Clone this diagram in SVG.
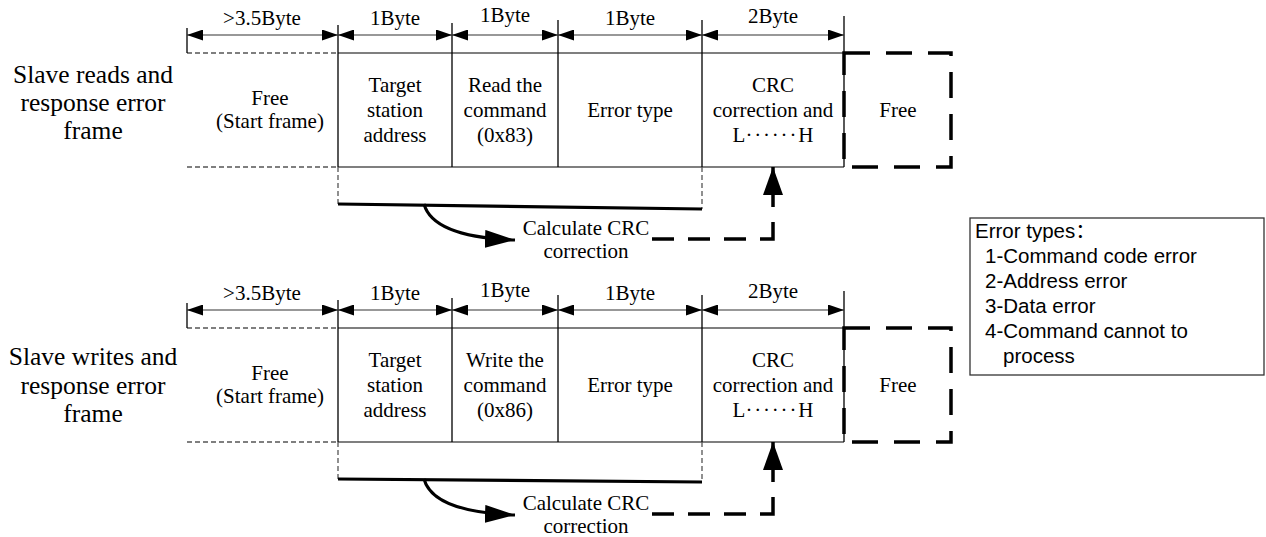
<svg xmlns="http://www.w3.org/2000/svg" width="1266" height="537" viewBox="0 0 1266 537">
<style>
.t{font-family:"Liberation Serif","Times New Roman",serif;font-size:21px;fill:#000;text-anchor:middle}
.lab{font-family:"Liberation Serif","Times New Roman",serif;font-size:25.5px;fill:#000;text-anchor:middle}
.lg{font-family:"Liberation Sans",Arial,sans-serif;font-size:20.5px;fill:#000}
.dots{letter-spacing:1.8px}
.hl{stroke:#555;stroke-width:1.3;fill:none}
.hd{stroke:#555;stroke-width:1.3;stroke-dasharray:5 3;fill:none}
.dv{stroke:#000;stroke-width:1.3;fill:none}
.dim{stroke:#333;stroke-width:1.2;fill:none;marker-start:url(#dh);marker-end:url(#dh)}
.thick{stroke:#000;stroke-width:3.2;fill:none}
.curve{stroke:#000;stroke-width:3;fill:none;marker-end:url(#big)}
.dconn{stroke:#000;stroke-width:3.5;fill:none;stroke-dasharray:22 14 22 14 22 14 30 15 60;marker-end:url(#up)}
.fbox{stroke:#000;stroke-width:3.5;fill:none;stroke-dasharray:26 16}
</style>
<defs>
<marker id="dh" viewBox="0 0 16 11" refX="16" refY="5.5" markerWidth="16" markerHeight="11" markerUnits="userSpaceOnUse" orient="auto-start-reverse"><path d="M0,0 L16,5.5 L0,11 z" fill="#000"/></marker>
<marker id="big" viewBox="0 0 30 18" refX="30" refY="9" markerWidth="30" markerHeight="18" markerUnits="userSpaceOnUse" orient="auto"><path d="M0,0 L30,9 L0,18 z" fill="#000"/></marker>
<marker id="up" viewBox="0 0 28 20" refX="28" refY="10" markerWidth="28" markerHeight="20" markerUnits="userSpaceOnUse" orient="auto"><path d="M0,0 L28,10 L0,20 z" fill="#000"/></marker>
</defs>

<!-- ===== Row 1 ===== -->
<g id="row1-label"><text class="lab" x="93" y="83">Slave reads and</text><text class="lab" x="93" y="111">response error</text><text class="lab" x="93" y="139">frame</text></g>
<g id="row1-frame">
<path class="hd" d="M187,53 H338 M187,167 H338"/>
<path class="hl" d="M338,53 H844 M338,167 H844"/>
<path class="dv" d="M187,28 V53 M338,25 V167 M452,23 V167 M558,20 V167 M702,20 V167 M844,16 V167"/>
</g>
<g id="row1-bytes">
<text class="t" x="262" y="25">&gt;3.5Byte</text>
<text class="t" x="395" y="25">1Byte</text>
<text class="t" x="505" y="22">1Byte</text>
<text class="t" x="630" y="25">1Byte</text>
<text class="t" x="773" y="23">2Byte</text>
</g>
<g id="row1-free"><text class="t" x="270" y="105">Free</text><text class="t" x="270" y="128">(Start frame)</text></g>
<g id="row1-addr"><text class="t" x="395" y="92">Target</text><text class="t" x="395" y="117">station</text><text class="t" x="395" y="142">address</text></g>
<g id="row1-cmd"><text class="t" x="505" y="92">Read the</text><text class="t" x="505" y="117">command</text><text class="t" x="505" y="142">(0x83)</text></g>
<g id="row1-err"><text class="t" x="630" y="117">Error type</text></g>
<g id="row1-crc"><text class="t" x="773" y="92">CRC</text><text class="t" x="773" y="117">correction and</text><text class="t" x="773" y="142">L<tspan class="dots">······</tspan>H</text></g>
<g id="row1-idle"><rect class="fbox" x="844" y="53" width="107" height="114"/><text class="t" x="898" y="117">Free</text></g>
<g id="row1-calc"><text class="t" x="586" y="235">Calculate CRC</text><text class="t" x="586" y="258">correction</text></g>

<!-- ===== Row 2 ===== -->
<g id="row2-label"><text class="lab" x="93" y="365">Slave writes and</text><text class="lab" x="93" y="394">response error</text><text class="lab" x="93" y="422">frame</text></g>
<g id="row2-frame">
<path class="hd" d="M187,328 H338 M187,442 H338"/>
<path class="hl" d="M338,328 H844 M338,442 H844"/>
<path class="dv" d="M187,303 V328 M338,300 V442 M452,298 V442 M558,295 V442 M702,295 V442 M844,291 V442"/>
</g>
<g id="row2-bytes">
<text class="t" x="262" y="300">&gt;3.5Byte</text>
<text class="t" x="395" y="300">1Byte</text>
<text class="t" x="505" y="297">1Byte</text>
<text class="t" x="630" y="300">1Byte</text>
<text class="t" x="773" y="298">2Byte</text>
</g>
<g id="row2-free"><text class="t" x="270" y="380">Free</text><text class="t" x="270" y="403">(Start frame)</text></g>
<g id="row2-addr"><text class="t" x="395" y="367">Target</text><text class="t" x="395" y="392">station</text><text class="t" x="395" y="417">address</text></g>
<g id="row2-cmd"><text class="t" x="505" y="367">Write the</text><text class="t" x="505" y="392">command</text><text class="t" x="505" y="417">(0x86)</text></g>
<g id="row2-err"><text class="t" x="630" y="392">Error type</text></g>
<g id="row2-crc"><text class="t" x="773" y="367">CRC</text><text class="t" x="773" y="392">correction and</text><text class="t" x="773" y="417">L<tspan class="dots">······</tspan>H</text></g>
<g id="row2-idle"><rect class="fbox" x="844" y="328" width="107" height="114"/><text class="t" x="898" y="392">Free</text></g>
<g id="row2-calc"><text class="t" x="586" y="510">Calculate CRC</text><text class="t" x="586" y="533">correction</text></g>

<!-- ===== Legend ===== -->
<g id="legend">
<rect x="970" y="218" width="294" height="157" fill="#fff" stroke="#333" stroke-width="1.3"/>
<text class="lg" x="975" y="238">Error types<tspan font-family="'Noto Sans CJK SC',sans-serif">：</tspan></text>
<text class="lg" x="985" y="263">1-Command code error</text>
<text class="lg" x="985" y="288">2-Address error</text>
<text class="lg" x="985" y="313">3-Data error</text>
<text class="lg" x="985" y="338">4-Command cannot to</text>
<text class="lg" x="1003" y="363">process</text>
</g>

<!-- ===== Connectors ===== -->
<g id="connectors">
<path class="dim" d="M187,35 H338"/><path class="dim" d="M338,35 H452"/><path class="dim" d="M452,35 H558"/><path class="dim" d="M558,35 H702"/><path class="dim" d="M702,35 H844"/>
<path class="hd" d="M338,167 V204 M702,167 V209"/>
<path class="thick" d="M338,204 L702,209"/>
<path class="curve" d="M424,204 C430,226 460,238 515,240"/>
<path class="dconn" d="M652,239 H773 V167"/>

<path class="dim" d="M187,310 H338"/><path class="dim" d="M338,310 H452"/><path class="dim" d="M452,310 H558"/><path class="dim" d="M558,310 H702"/><path class="dim" d="M702,310 H844"/>
<path class="hd" d="M338,442 V479 M702,442 V482"/>
<path class="thick" d="M338,479 L702,482"/>
<path class="curve" d="M424,479 C430,501 460,513 515,515"/>
<path class="dconn" d="M652,514 H773 V442"/>
</g>
</svg>
